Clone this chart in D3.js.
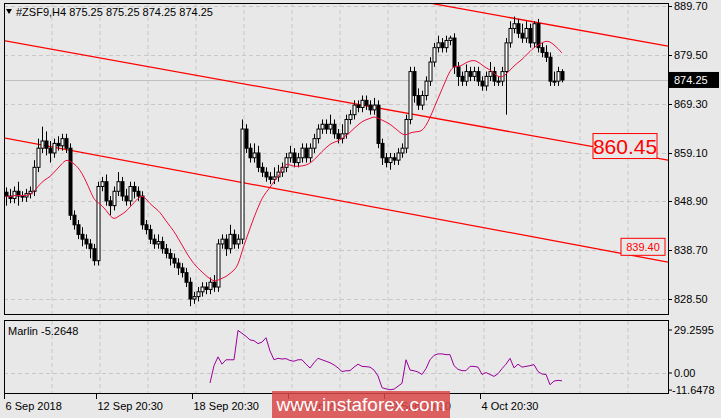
<!DOCTYPE html>
<html><head><meta charset="utf-8">
<script src="https://cdn.jsdelivr.net/npm/d3@7/dist/d3.min.js"></script>
<style>body{margin:0;background:#e8e8e8}svg{display:block;font-family:"DejaVu Sans",Tahoma,sans-serif}</style>
</head><body><svg id="c" width="721" height="418"></svg>
<script>
const closes=[850,849.5,851,850,849.8,850.5,851,856,860,861.5,
860,859,861,860.5,862,860,846,844,842,841,
840,839,836.5,852,853,849,848,851,853,850,
849,852,851,850,844,843,841,840,840.5,839,
838,837,836,835,834,832,828.5,829,830,831,
830.5,832,831,840,841,839,842,840,841,864,
860,858,859,856,855,854,853.5,854,855,856,
858,859,857,858,860,858,860,862,864,865,
864,865,863,862,863,866,867,869,868.5,870,
869,868,869,861,858,857,858,857.5,859,860,
866,876,871,869,871,874,878,881,882,881,
882.5,883,877,875,874,876,875,876,874,873,
875,876,874,874,876,882,885,886,884,883,
885,882,886,881,880,879,874,874,876,874.25];
const upperWick=[1,1.5,1,2,1,1,1,1.5,2,3,
2,1.5,1,1.5,1,1,1,1,1,1.5,
1,1,1,1,1,1.5,1,1,2,1,
1.5,1,1,1,1,1,1,1,1.5,1,
1,1,1,1,1,1,1,1,1,1,
1,1,1.5,1,1,1,2,1,1,2,
1,1,2,1.5,1,1,1,2,1.5,1,
1,1.5,1,1,1,1,1,1,1,1,
1,2,1,1,2,1,1,1,1,1,
1,1,1.5,1,1,1,1,1,1,1,
1,1,1,1.5,1,1,1,1,1.5,1,
1,0.5,1,1,1,1.5,1,1,1,1,
1,2,1,1,1,1,1.5,1.5,1,2,
1.5,1,0.5,1,1,1.5,1,2,1,0.5];
const lowerWick=[2,1,1,2,1,1,1,1,1,1,
1.5,2,1,1,1,1,1,1,1,1.5,
1,2,1,1,1,1,2,1,1,1,
1,1,1.5,1,1,1,1,1,1,1,
1,1.5,1,1.5,1,1,1.5,1,1,1,
1,1,1,1,1,1.5,1,1,1,1,
1,1,1,1,1,1,1,1,1,1,
1,1,1,1,1,1,1,1,1,1,
1,1,1,1,1,1,1,1,1,1,
1,1,1,1,1.5,1,1.5,1,1,1,
1,1,1.5,1,1,1,1,1,1,1,
1,1,1.5,2,1,1,1,1,1,1,
1,1,1,1,1,9,1,1,1,1,
1,1,1,1,1,1,1,1,1,0.5];
const marlinStart=51;
const marlin=[-6.8,5,11,6,9,9,9,29,27,25,22.5,22,20,21,24,15,9,10,9.5,9.8,
8.5,8,9,9,6,3.4,7,10,9,8,7,5.5,3.5,1,1.5,1.6,4,6,4.5,4.3,
4,2,-2,-10,-10.8,-11.4,-11,-9,-7,9,2,1.5,0.7,-1,3,9,12,13,13,12.5,
12.5,5,2.5,1.6,1.6,4.5,4.5,4,-1,0.3,-1,-2.3,-0.5,3,6,10,3.5,6,4,4.5,
5,5.7,1,-0.7,-1,-8,-5.5,-5,-5.3];
const priceTicks=[889.70,879.50,869.30,859.10,848.90,838.70,828.50];
const marlinTicks=[29.2595,0.00,-11.6478];
const dateLabels=["6 Sep 2018","12 Sep 20:30","18 Sep 20:30","24 Sep 20:30","28 Sep 20:30","4 Oct 20:30"];
const dateBars=[0,23,47,71,95,119];
const channels=[[106,890.3,165.5,881.3],[-1.5,882.6,165.5,857.5],[-1.5,862.3,165.5,836.2]];
const channelLabels=[{text:"860.45",price:860.45},{text:"839.40",price:839.40}];

const svg=d3.select("#c");
const L=4,R=668,T=3,B=316;
const x=d3.scaleLinear().domain([0,1]).range([6,10]);
const y=d3.scaleLinear().domain([828.5,889.7]).range([299,6]);
const ym=d3.scaleLinear().domain([0,29.2595]).range([373,330]);
const F='"Liberation Sans",Arial,sans-serif';
svg.append("rect").attr("width",721).attr("height",418).attr("fill","#e8e8e8");
svg.append("clipPath").attr("id","cm").append("rect").attr("x",L).attr("y",T).attr("width",R-L).attr("height",B-T);
const gx=d3.range(1,14).map(k=>4+48*k);
const g=svg.append("g");
gx.forEach(v=>{g.append("line").attr("x1",v).attr("x2",v).attr("y1",T).attr("y2",B).attr("stroke","#c8c8c8").attr("stroke-dasharray","4,3");
 g.append("line").attr("x1",v).attr("x2",v).attr("y1",321).attr("y2",393).attr("stroke","#c8c8c8").attr("stroke-dasharray","4,3");});
priceTicks.forEach(p=>g.append("line").attr("x1",L).attr("x2",R).attr("y1",Math.round(y(p))+.5).attr("y2",Math.round(y(p))+.5).attr("stroke","#c8c8c8").attr("stroke-dasharray","4,3"));
g.append("line").attr("x1",L).attr("x2",R).attr("y1",ym(0)+.5).attr("y2",ym(0)+.5).attr("stroke","#c8c8c8").attr("stroke-dasharray","4,3");
const last=closes[closes.length-1];
g.append("line").attr("x1",L).attr("x2",R).attr("y1",Math.round(y(last))+.5).attr("y2",Math.round(y(last))+.5).attr("stroke","#c0c0c0");
const ch=svg.append("g").attr("clip-path","url(#cm)");
channels.forEach(c=>ch.append("line").attr("x1",x(c[0])).attr("y1",y(c[1])).attr("x2",x(c[2])).attr("y2",y(c[3])).attr("stroke","#ff0000").attr("stroke-width",1.3));
const cg=svg.append("g");
closes.forEach((c,i)=>{
 const o=i?closes[i-1]:c+0.8;
 const hi=Math.max(o,c)+upperWick[i], lo=Math.min(o,c)-lowerWick[i];
 const cx=Math.round(x(i))+.5;
 cg.append("line").attr("x1",cx).attr("x2",cx).attr("y1",y(hi)).attr("y2",y(lo)).attr("stroke","#000");
 const top=y(Math.max(o,c)),h=Math.max(1,y(Math.min(o,c))-top);
 cg.append("rect").attr("x",cx-1.5).attr("y",top).attr("width",3).attr("height",h)
  .attr("fill",c>=o?"#fff":"#000").attr("stroke","#000").attr("stroke-width",1);
});
// simple moving average of closes
const P=12;
const sma=closes.map((c,i)=>d3.mean(closes.slice(Math.max(0,i-P+1),i+1)));
svg.append("path").datum(sma).attr("fill","none").attr("stroke","#e8103c").attr("stroke-width",1)
 .attr("d",d3.line().x((d,i)=>x(i)).y(d=>y(d)).curve(d3.curveBasis));
channelLabels.forEach((lb,k)=>{
 const big=k===0;
 const cy=y(lb.price);
 const w=big?64:44,h=big?25:17,xx=big?593:621;
 svg.append("rect").attr("x",xx).attr("y",cy-h/2).attr("width",w).attr("height",h).attr("fill","#e8e8e8").attr("stroke","#ff0000");
 svg.append("text").attr("x",xx+w/2).attr("y",cy+(big?8:4)).attr("text-anchor","middle").attr("fill","#ff0000")
  .attr("font-family",F).attr("font-size",big?21:11).text(lb.text);
});
svg.append("rect").attr("x",L+.5).attr("y",T+.5).attr("width",R-L).attr("height",B-T-2).attr("fill","none").attr("stroke","#000");
svg.append("rect").attr("x",L+.5).attr("y",320.5).attr("width",R-L).attr("height",73).attr("fill","none").attr("stroke","#000");
priceTicks.forEach(p=>{const yy=Math.round(y(p));
 svg.append("line").attr("x1",R).attr("x2",R+4).attr("y1",yy+.5).attr("y2",yy+.5).attr("stroke","#000");
 svg.append("text").attr("x",674).attr("y",yy+4).attr("font-size",11).attr("font-family",F).text(p.toFixed(2));});
svg.append("rect").attr("x",669).attr("y",y(last)-8).attr("width",50).attr("height",16).attr("fill","#000");
svg.append("text").attr("x",674).attr("y",y(last)+4).attr("font-size",11).attr("font-family",F).attr("fill","#fff").text(last.toFixed(2));
marlinTicks.forEach(v=>{const yy=ym(v);
 svg.append("line").attr("x1",R).attr("x2",R+4).attr("y1",yy).attr("y2",yy).attr("stroke","#000");
 svg.append("text").attr("x",v<0?672:674).attr("y",yy+4).attr("font-size",11).attr("font-family",F).text(v===0?"0.00":v.toFixed(4));});
svg.append("path").datum(marlin).attr("fill","none").attr("stroke","#9a009a").attr("stroke-width",1)
 .attr("d",d3.line().x((d,i)=>x(i+marlinStart)).y(d=>ym(d)));
svg.append("text").attr("x",8).attr("y",335).attr("font-size",11).attr("font-family",F).text("Marlin -5.2648");
dateBars.forEach((b,k)=>{const xx=Math.round(x(b))-2+.5;
 svg.append("line").attr("x1",xx).attr("x2",xx).attr("y1",394).attr("y2",399).attr("stroke","#000");
 svg.append("text").attr("x",xx+1).attr("y",410).attr("font-size",11).attr("font-family",F).text(dateLabels[k]);});
svg.append("path").attr("d","M6,9 L12,9 L9,14 Z").attr("fill","#000");
svg.append("text").attr("x",16).attr("y",16).attr("font-size",11).attr("font-family",F).text("#ZSF9,H4  875.25 875.25 874.25 874.25");
svg.append("rect").attr("x",272).attr("y",391).attr("width",178).attr("height",27).attr("fill","#d94848").attr("opacity",0.85);
svg.append("text").attr("x",361).attr("y",411).attr("text-anchor","middle").attr("font-size",19).attr("font-family",F).attr("fill","#fff").text("www.instaforex.com");
</script></body></html>
